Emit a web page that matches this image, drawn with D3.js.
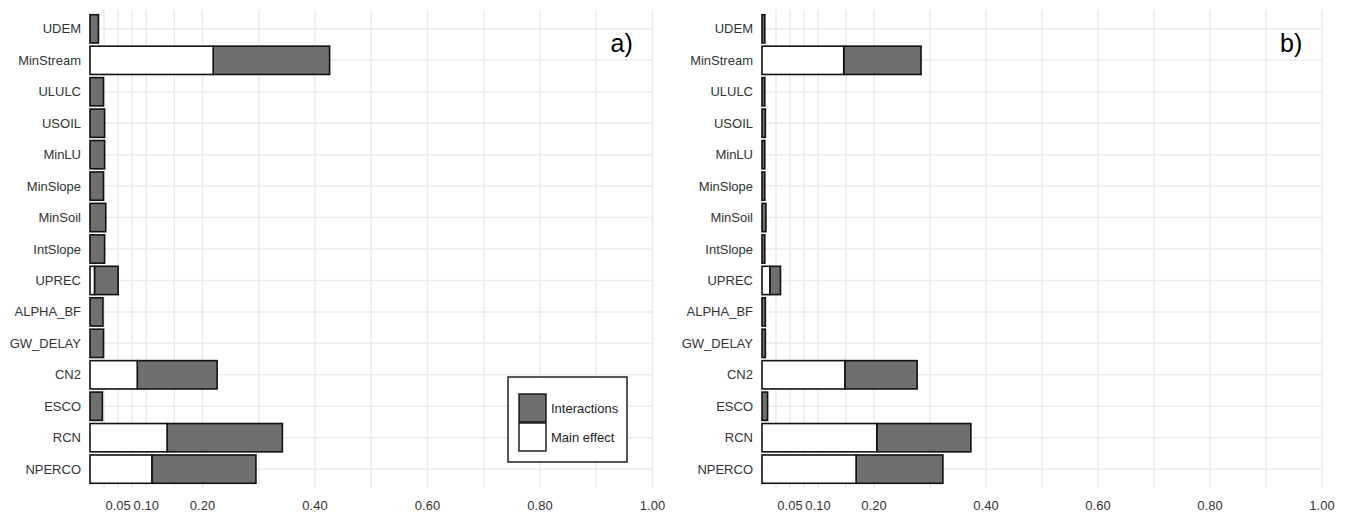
<!DOCTYPE html>
<html>
<head>
<meta charset="utf-8">
<script src="https://cdn.jsdelivr.net/npm/d3@7"></script>
<style>
  body { margin: 0; background: #fff; }
  svg { display: block; font-family: "Liberation Sans", Arial, sans-serif; }
</style>
</head>
<body>
<svg id="chart" width="1351" height="515"></svg>
<script>
// parameters, top to bottom
const params = ["UDEM", "MinStream", "ULULC", "USOIL", "MinLU", "MinSlope", "MinSoil",
  "IntSlope", "UPREC", "ALPHA_BF", "GW_DELAY", "CN2", "ESCO", "RCN", "NPERCO"];

// panel a) first order (main effect) and total order indices
const mainA  = [0, 0.219, 0, 0, 0, 0, 0, 0, 0.008, 0, 0, 0.084, 0, 0.137, 0.110];
const totalA = [0.015, 0.426, 0.024, 0.026, 0.026, 0.024, 0.028, 0.026, 0.050, 0.023, 0.024, 0.226, 0.022, 0.342, 0.295];

// panel b)
const mainB  = [0, 0.146, 0, 0, 0, 0, 0, 0, 0.014, 0, 0, 0.148, 0, 0.205, 0.168];
const totalB = [0.005, 0.284, 0.005, 0.006, 0.005, 0.005, 0.007, 0.005, 0.033, 0.006, 0.006, 0.277, 0.010, 0.373, 0.323];

const tickVals = [0.05, 0.10, 0.20, 0.40, 0.60, 0.80, 1.00];
const minorVals = [0.025, 0.075, 0.15, 0.30, 0.50, 0.70, 0.90];

const legendItems = ["Interactions", "Main effect"];

const svg = d3.select("#chart");
const gridCol = "#ebebeb";
const greyFill = "#6f6f6f";
const plotTop = 10, plotBottom = 488;

function drawPanel(left, right, mainVals, totalVals, tag, withLegend) {
  const x = d3.scaleLinear().domain([0, 1]).range([left, right]);
  // discrete axis with ggplot style 0.6 expansion
  const y = d3.scalePoint().domain(params).range([plotTop, plotBottom]).padding(0.6);
  const step = y.step();
  const bh = step * 0.9;

  const g = svg.append("g");

  // grid
  g.append("g").selectAll("line")
    .data(minorVals.concat(tickVals))
    .join("line")
      .attr("x1", d => x(d)).attr("x2", d => x(d))
      .attr("y1", plotTop).attr("y2", plotBottom)
      .attr("stroke", gridCol).attr("stroke-width", 1.5);

  g.append("g").selectAll("line")
    .data(params)
    .join("line")
      .attr("x1", left).attr("x2", right)
      .attr("y1", d => y(d)).attr("y2", d => y(d))
      .attr("stroke", gridCol).attr("stroke-width", 1.5);

  const rows = params.map((p, i) => ({p, main: mainVals[i], total: totalVals[i]}));

  // interactions part (main -> total)
  g.append("g").selectAll("rect")
    .data(rows)
    .join("rect")
      .attr("x", d => x(d.main))
      .attr("y", d => y(d.p) - bh / 2)
      .attr("width", d => x(d.total) - x(d.main))
      .attr("height", bh)
      .attr("fill", greyFill)
      .attr("stroke", "#111").attr("stroke-width", 1.6);

  // main effect part
  g.append("g").selectAll("rect")
    .data(rows.filter(d => d.main > 0))
    .join("rect")
      .attr("x", x(0))
      .attr("y", d => y(d.p) - bh / 2)
      .attr("width", d => x(d.main) - x(0))
      .attr("height", bh)
      .attr("fill", "#fff")
      .attr("stroke", "#111").attr("stroke-width", 1.6);

  // y labels
  g.append("g").selectAll("text")
    .data(params)
    .join("text")
      .attr("x", left - 9)
      .attr("y", d => y(d))
      .attr("dy", "0.35em")
      .attr("text-anchor", "end")
      .attr("font-size", 13)
      .attr("fill", "#333")
      .text(d => d);

  // x tick labels
  g.append("g").selectAll("text")
    .data(tickVals)
    .join("text")
      .attr("x", d => x(d))
      .attr("y", 510)
      .attr("text-anchor", "middle")
      .attr("font-size", 13)
      .attr("fill", "#333")
      .text(d => d3.format(".2f")(d));

  g.append("text")
    .attr("x", right - 42)
    .attr("y", 52)
    .attr("font-size", 25)
    .attr("fill", "#000")
    .text(tag);

  if (withLegend) {
    const lg = g.append("g").attr("transform", "translate(508,377)");
    lg.append("rect")
      .attr("width", 119).attr("height", 85)
      .attr("fill", "#fff").attr("stroke", "#111").attr("stroke-width", 1.4);
    const fills = [greyFill, "#fff"];
    legendItems.forEach((name, i) => {
      lg.append("rect")
        .attr("x", 11).attr("y", 17 + i * 29)
        .attr("width", 27).attr("height", 28)
        .attr("fill", fills[i]).attr("stroke", "#111").attr("stroke-width", 1.4);
      lg.append("text")
        .attr("x", 43).attr("y", 31 + i * 29)
        .attr("dy", "0.35em")
        .attr("font-size", 13)
        .attr("fill", "#222")
        .text(name);
    });
  }
}

drawPanel(90, 652.5, mainA, totalA, "a)", true);
drawPanel(762, 1322, mainB, totalB, "b)", false);
</script>
</body>
</html>
